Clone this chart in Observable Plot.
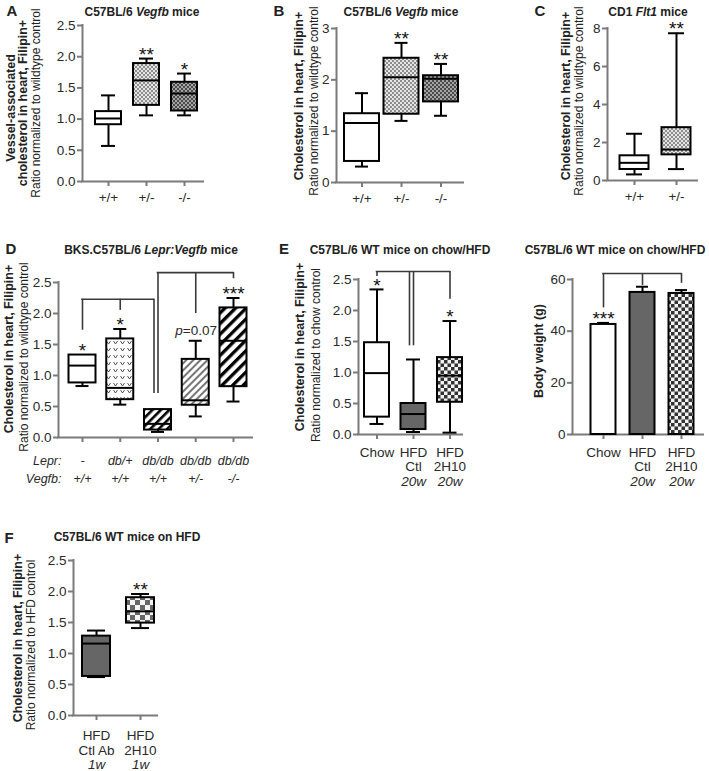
<!DOCTYPE html>
<html><head><meta charset="utf-8">
<script src="https://cdn.jsdelivr.net/npm/d3@7"></script>
<script src="https://cdn.jsdelivr.net/npm/@observablehq/plot@0.6"></script>
<style>
body{margin:0;background:#fff;}
#root{position:relative;width:709px;height:771px;overflow:hidden;font-family:"Liberation Sans",Arial,sans-serif;color:#222;background:#fff;}
.t{position:absolute;white-space:nowrap;transform:translate(-50%,-50%);line-height:1;}
.title{font-weight:bold;font-size:12px;}
.letter{font-weight:bold;font-size:15px;}
.yl{position:absolute;white-space:nowrap;transform:translate(-50%,-50%) rotate(-90deg);line-height:1;}
.yb{font-weight:bold;font-size:12.5px;}
.yr{font-size:12px;}
</style></head><body>
<svg width="0" height="0" style="position:absolute">
<defs>
<pattern id="chkL" width="4" height="4" patternUnits="userSpaceOnUse"><rect width="4" height="4" fill="#e6e6e6"/><rect width="2" height="2" fill="#8c8c8c"/><rect x="2" y="2" width="2" height="2" fill="#8c8c8c"/></pattern>
<pattern id="chkD" width="4" height="4" patternUnits="userSpaceOnUse"><rect width="4" height="4" fill="#a4a4a4"/><rect width="2" height="2" fill="#4a4a4a"/><rect x="2" y="2" width="2" height="2" fill="#4a4a4a"/></pattern>
<pattern id="chkE" width="7" height="7" patternUnits="userSpaceOnUse"><rect width="7" height="7" fill="#f2f2f2"/><rect width="3.5" height="3.5" fill="#333"/><rect x="3.5" y="3.5" width="3.5" height="3.5" fill="#333"/></pattern>
<pattern id="chkF" width="10" height="10" patternUnits="userSpaceOnUse"><rect width="10" height="10" fill="#f4f4f4"/><rect width="5" height="5" fill="#666"/><rect x="5" y="5" width="5" height="5" fill="#666"/></pattern>
<pattern id="vee" width="7" height="7" patternUnits="userSpaceOnUse"><rect width="7" height="7" fill="#fff"/><path d="M1.5,2 L3.5,5 L5.5,2" fill="none" stroke="#444" stroke-width="0.9"/></pattern>
<pattern id="h1" width="6" height="6" patternUnits="userSpaceOnUse" patternTransform="rotate(45)"><rect width="6" height="6" fill="#fff"/><rect width="2.6" height="6" fill="#000"/></pattern>
<pattern id="h2" width="5" height="5" patternUnits="userSpaceOnUse" patternTransform="rotate(45)"><rect width="5" height="5" fill="#fff"/><rect width="2" height="5" fill="#777"/></pattern>
<pattern id="h3" width="7.5" height="7.5" patternUnits="userSpaceOnUse" patternTransform="rotate(45)"><rect width="7.5" height="7.5" fill="#fff"/><rect width="3.3" height="7.5" fill="#000"/></pattern>
</defs></svg>
<div id="root"></div>
<script>
// ---------------- DATA ----------------
// Panel A: C57BL/6 Vegfb mice, vessel-associated cholesterol
const A_groups = ["+/+", "+/-", "-/-"];
const A_min = [0.57, 1.06, 1.06];
const A_q1  = [0.91, 1.22, 1.13];
const A_med = [1.01, 1.62, 1.41];
const A_q3  = [1.12, 1.89, 1.59];
const A_max = [1.38, 1.97, 1.73];
const A_sig = ["", "**", "*"];
const A_yTicks = [0, 0.5, 1.0, 1.5, 2.0, 2.5];

// Panel B: C57BL/6 Vegfb mice, cholesterol in heart
const B_groups = ["+/+", "+/-", "-/-"];
const B_min = [0.31, 1.20, 1.30];
const B_q1  = [0.41, 1.33, 1.57];
const B_med = [1.16, 2.05, 2.02];
const B_q3  = [1.34, 2.42, 2.08];
const B_max = [1.74, 2.72, 2.31];
const B_sig = ["", "**", "**"];
const B_yTicks = [0, 1, 2, 3];

// Panel C: CD1 Flt1 mice
const C_groups = ["+/+", "+/-"];
const C_min = [0.32, 0.60];
const C_q1  = [0.58, 1.35];
const C_med = [0.93, 1.63];
const C_q3  = [1.30, 2.78];
const C_max = [2.46, 7.75];
const C_sig = ["", "**"];
const C_yTicks = [0, 2, 4, 6, 8];

// Panel D: BKS.C57BL/6 Lepr:Vegfb mice
const D_rowNames = ["Lepr:", "Vegfb:"];
const D_lepr  = ["-", "db/+", "db/db", "db/db", "db/db"];
const D_vegfb = ["+/+", "+/+", "+/+", "+/-", "-/-"];
const D_min = [0.83, 0.53, 0.09, 0.34, 0.58];
const D_q1  = [0.88, 0.61, 0.12, 0.52, 0.82];
const D_med = [1.16, 0.80, 0.22, 0.60, 1.56];
const D_q3  = [1.33, 1.59, 0.45, 1.26, 2.09];
const D_max = [1.33, 1.75, 0.45, 1.56, 2.25];
const D_sig = ["*", "*", "", "", "***"];
const D_pval = [null, null, null, "0.07", null];
const D_brkY = [2.23, 2.66];
const D_brkLegs = [[[1, 1.73], [2, 2.05], [3, 0.71]], [[3, 0.71], [4, 2.0], [5, 2.56]]];
const D_yTicks = [0, 0.5, 1.0, 1.5, 2.0, 2.5];

// Panel E (left): C57BL/6 WT mice on chow/HFD, cholesterol
const E_lab1 = ["Chow", "HFD", "HFD"];
const E_lab2 = ["", "Ctl", "2H10"];
const E_lab3 = ["", "20w", "20w"];
const E_min = [0.17, 0.04, 0.03];
const E_q1  = [0.28, 0.08, 0.52];
const E_med = [0.99, 0.33, 0.95];
const E_q3  = [1.48, 0.50, 1.24];
const E_max = [2.34, 1.21, 1.83];
const E_sig = ["*", "", "*"];
const E_brkY = [2.63];
const E_brkLegs = [[[1, 2.55], [2, 1.43], [2, 1.43], [3, 2.18]]];
const E_yTicks = [0, 0.5, 1.0, 1.5, 2.0, 2.5];

// Panel E (right): body weight (g), mean + SEM
const W_mean = [42.6, 55.0, 54.6];
const W_sem  = [0.6, 2.2, 1.3];
const W_sig  = ["***", "", ""];
const W_brkY = [62.3];
const W_brkLegs = [[[1, 49], [2, 57.7], [3, 58.5]]];
const W_yTicks = [0, 20, 40, 60];

// Panel F: C57BL/6 WT mice on HFD
const F_lab1 = ["HFD", "HFD"];
const F_lab2 = ["Ctl Ab", "2H10"];
const F_lab3 = ["1w", "1w"];
const F_min = [0.62, 1.41];
const F_q1  = [0.63, 1.49];
const F_med = [1.16, 1.68];
const F_q3  = [1.28, 1.90];
const F_max = [1.37, 1.96];
const F_sig = ["", "**"];
const F_yTicks = [0, 0.5, 1.0, 1.5, 2.0, 2.5];

// ---------------- STYLE / LAYOUT ----------------
const AX = "#7a7a7a", TXT = "#2a2a2a", BR = "#3a3a3a";
const FONT = '"Liberation Sans", Arial, sans-serif';
const TICKFS = 13.5, STARFS = 19;
const root = document.getElementById("root");
const f1 = d3.format(".1f"), f0 = d3.format("d");

function place(svg, g) {
  svg.style.position = "absolute";
  svg.style.left = g.left + "px";
  svg.style.top = g.top + "px";
  svg.style.overflow = "visible";
  svg.style.background = "transparent";
  svg.style.fontFamily = FONT;
  svg.style.maxWidth = "none";
  root.appendChild(svg);
}

function axisMarks(g, a, yTop, yTicks, yFmt, n) {
  const idx = d3.range(1, n + 1);
  return [
    Plot.ruleY([0], {stroke: AX, strokeWidth: 2, strokeLinecap: "square"}),
    Plot.ruleX([a], {x: d => d, y1: () => 0, y2: () => yTop, stroke: AX, strokeWidth: 2, strokeLinecap: "square"}),
    Plot.axisY({ticks: yTicks, tickFormat: yFmt, tickSize: 5, tickPadding: 2, stroke: AX, strokeWidth: 2, fill: TXT, fontSize: TICKFS, label: null}),
    Plot.axisX({ticks: idx, tickSize: 5, tickFormat: () => "", stroke: AX, strokeWidth: 2, label: null})
  ];
}

function bracketMarks(ys, legs, dxs, u) {
  const v = [], h = [];
  ys.forEach((y, k) => {
    const xs = legs[k].map(([c, yEnd], j) => {
      const x = c + ((dxs && dxs[k]) ? dxs[k][j] : 0) * u;
      v.push({x, y1: yEnd, y2: y});
      return x;
    });
    h.push({x1: d3.min(xs), x2: d3.max(xs), y});
  });
  return [
    Plot.ruleX(v, {x: "x", y1: "y1", y2: "y2", stroke: BR, strokeWidth: 1.6}),
    Plot.ruleY(h, {y: "y", x1: "x1", x2: "x2", stroke: BR, strokeWidth: 1.6, strokeLinecap: "square"})
  ];
}

function labelMarks(lines, n) {
  const out = [];
  lines.forEach(L => {
    const rows = L.texts.map((t, k) => ({i: k + 1, t})).filter(d => d.t);
    out.push(Plot.text(rows, {x: "i", y: () => 0, text: "t", dy: L.dy, fontSize: L.fs || TICKFS, fill: TXT, fontStyle: L.italic ? "italic" : "normal", lineAnchor: "middle"}));
  });
  return out;
}

function boxPanel(cfg) {
  const g = cfg.geo;
  const a = 1 - (g.cat1 - g.axL) / g.step, b = 1 + (g.axR - g.cat1) / g.step;
  const u = 1 / g.step;
  const n = cfg.min.length;
  const rows = d3.range(n).map(k => ({i: k + 1, min: cfg.min[k], q1: cfg.q1[k], med: cfg.med[k], q3: cfg.q3[k], max: cfg.max[k], fill: cfg.fills[k], sig: cfg.sig[k]}));
  const bw = cfg.boxHalf * u, cw = cfg.capHalf * u;
  const marks = [
    ...axisMarks(g, a, cfg.yTop, cfg.yTicks, cfg.yFmt, n),
    ...(cfg.brkY ? bracketMarks(cfg.brkY, cfg.brkLegs, cfg.brkDx, u) : []),
    Plot.ruleX(rows, {x: "i", y1: "min", y2: "max", stroke: "#000", strokeWidth: 2}),
    Plot.ruleY(rows, {y: "min", x1: d => d.i - cw, x2: d => d.i + cw, stroke: "#000", strokeWidth: 2}),
    Plot.ruleY(rows, {y: "max", x1: d => d.i - cw, x2: d => d.i + cw, stroke: "#000", strokeWidth: 2}),
    Plot.rect(rows, {x1: d => d.i - bw, x2: d => d.i + bw, y1: "q1", y2: "q3", fill: "fill", stroke: "#000", strokeWidth: 2}),
    Plot.ruleY(rows, {y: "med", x1: d => d.i - bw, x2: d => d.i + bw, stroke: "#000", strokeWidth: 2}),
    Plot.text(rows.filter(d => d.sig), {x: "i", y: "max", text: "sig", dy: -4, fontSize: STARFS, fill: "#111", lineAnchor: "middle"}),
    ...labelMarks(cfg.lines, n),
    ...(cfg.extra ? cfg.extra(rows, a) : [])
  ];
  const svg = Plot.plot({
    width: g.w, height: g.h,
    marginLeft: g.axL - g.left, marginRight: g.left + g.w - g.axR,
    marginTop: g.yTopPx - g.top, marginBottom: g.top + g.h - g.y0Px,
    x: {domain: [a, b]}, y: {domain: [0, cfg.yTop]},
    color: {type: "identity"},
    marks
  });
  place(svg, g);
}

function barPanel(cfg) {
  const g = cfg.geo;
  const a = 1 - (g.cat1 - g.axL) / g.step, b = 1 + (g.axR - g.cat1) / g.step;
  const u = 1 / g.step;
  const n = cfg.mean.length;
  const rows = d3.range(n).map(k => ({i: k + 1, mean: cfg.mean[k], top: cfg.mean[k] + cfg.sem[k], fill: cfg.fills[k], sig: cfg.sig[k]}));
  const bw = cfg.barHalf * u, cw = cfg.capHalf * u;
  const marks = [
    ...axisMarks(g, a, cfg.yTop, cfg.yTicks, cfg.yFmt, n),
    ...bracketMarks(cfg.brkY, cfg.brkLegs, null, u),
    Plot.ruleX(rows, {x: "i", y1: "mean", y2: "top", stroke: "#000", strokeWidth: 2}),
    Plot.ruleY(rows, {y: "top", x1: d => d.i - cw, x2: d => d.i + cw, stroke: "#000", strokeWidth: 2}),
    Plot.rectY(rows, {x1: d => d.i - bw, x2: d => d.i + bw, y: "mean", fill: "fill", stroke: "#000", strokeWidth: 2}),
    Plot.text(rows.filter(d => d.sig), {x: "i", y: "top", text: "sig", dy: -4, fontSize: STARFS, fill: "#111", lineAnchor: "middle"}),
    ...labelMarks(cfg.lines, n)
  ];
  const svg = Plot.plot({
    width: g.w, height: g.h,
    marginLeft: g.axL - g.left, marginRight: g.left + g.w - g.axR,
    marginTop: g.yTopPx - g.top, marginBottom: g.top + g.h - g.y0Px,
    x: {domain: [a, b]}, y: {domain: [0, cfg.yTop]},
    color: {type: "identity"},
    marks
  });
  place(svg, g);
}

// Panel A
boxPanel({
  geo: {left: 45, top: 0, w: 170, h: 215, axL: 82, axR: 203, yTopPx: 25, y0Px: 181, cat1: 108, step: 38},
  min: A_min, q1: A_q1, med: A_med, q3: A_q3, max: A_max, sig: A_sig,
  fills: ["#fff", "url(#chkL)", "url(#chkD)"],
  yTop: 2.5, yTicks: A_yTicks, yFmt: f1, boxHalf: 13, capHalf: 7,
  lines: [{texts: A_groups, dy: 16}]
});
// Panel B
boxPanel({
  geo: {left: 300, top: 0, w: 175, h: 215, axL: 336, axR: 463, yTopPx: 28, y0Px: 182, cat1: 361.5, step: 39.5},
  min: B_min, q1: B_q1, med: B_med, q3: B_q3, max: B_max, sig: B_sig,
  fills: ["#fff", "url(#chkL)", "url(#chkD)"],
  yTop: 3, yTicks: B_yTicks, yFmt: f0, boxHalf: 17.5, capHalf: 6.5,
  lines: [{texts: B_groups, dy: 16}]
});
// Panel C
boxPanel({
  geo: {left: 575, top: 0, w: 134, h: 215, axL: 607, axR: 697, yTopPx: 28, y0Px: 180, cat1: 634, step: 42},
  min: C_min, q1: C_q1, med: C_med, q3: C_q3, max: C_max, sig: C_sig,
  fills: ["#fff", "url(#chkL)"],
  yTop: 8, yTicks: C_yTicks, yFmt: f0, boxHalf: 14.5, capHalf: 8,
  lines: [{texts: C_groups, dy: 16}]
});
// Panel D
boxPanel({
  geo: {left: 0, top: 255, w: 265, h: 240, axL: 58, axR: 252, yTopPx: 282, y0Px: 437, cat1: 82, step: 37.75},
  min: D_min, q1: D_q1, med: D_med, q3: D_q3, max: D_max, sig: D_sig,
  fills: ["#fff", "url(#vee)", "url(#h1)", "url(#h2)", "url(#h3)"],
  yTop: 2.5, yTicks: D_yTicks, yFmt: f1, boxHalf: 13.5, capHalf: 6.5,
  brkY: D_brkY, brkLegs: D_brkLegs, brkDx: [[0, 0, -4], [0, 0, 0]],
  lines: [{texts: D_lepr, dy: 23, italic: true, fs: 12.5}, {texts: D_vegfb, dy: 41, italic: true, fs: 12.5}],
  extra: (rows, a) => {
    const pv = rows.map((d, k) => ({...d, p: D_pval[k]})).filter(d => d.p);
    return [
      Plot.text([D_rowNames[0]], {x: () => a, y: () => 0, text: d => d, dx: 3, dy: 23, textAnchor: "end", fontStyle: "italic", fontSize: 12.5, fill: TXT, lineAnchor: "middle"}),
      Plot.text([D_rowNames[1]], {x: () => a, y: () => 0, text: d => d, dx: 3, dy: 41, textAnchor: "end", fontStyle: "italic", fontSize: 12.5, fill: TXT, lineAnchor: "middle"}),
      Plot.text(pv, {x: "i", y: "max", text: () => "p", dx: -13, dy: -10, textAnchor: "end", fontStyle: "italic", fontSize: 13.5, fill: TXT}),
      Plot.text(pv, {x: "i", y: "max", text: d => "=" + d.p, dx: -13, dy: -10, textAnchor: "start", fontSize: 13.5, fill: TXT})
    ];
  }
});
// Panel E left
boxPanel({
  geo: {left: 325, top: 255, w: 150, h: 240, axL: 358, axR: 462, yTopPx: 279, y0Px: 434, cat1: 376.5, step: 36.5},
  min: E_min, q1: E_q1, med: E_med, q3: E_q3, max: E_max, sig: E_sig,
  fills: ["#fff", "#666", "url(#chkE)"],
  yTop: 2.5, yTicks: E_yTicks, yFmt: f1, boxHalf: 12.5, capHalf: 7,
  brkY: E_brkY, brkLegs: E_brkLegs, brkDx: [[0, -4, 0, 0]],
  lines: [{texts: E_lab1, dy: 18}, {texts: E_lab2, dy: 32}, {texts: E_lab3, dy: 47, italic: true}]
});
// Panel E right
barPanel({
  geo: {left: 545, top: 255, w: 164, h: 240, axL: 572, axR: 703, yTopPx: 279, y0Px: 434, cat1: 603, step: 39},
  mean: W_mean, sem: W_sem, sig: W_sig,
  fills: ["#fff", "#666", "url(#chkE)"],
  yTop: 60, yTicks: W_yTicks, yFmt: f0, barHalf: 12.5, capHalf: 6,
  brkY: W_brkY, brkLegs: W_brkLegs,
  lines: [{texts: E_lab1, dy: 18}, {texts: E_lab2, dy: 32}, {texts: E_lab3, dy: 47, italic: true}]
});
// Panel F
boxPanel({
  geo: {left: 40, top: 545, w: 140, h: 226, axL: 73, axR: 157, yTopPx: 560, y0Px: 715, cat1: 96, step: 44},
  min: F_min, q1: F_q1, med: F_med, q3: F_q3, max: F_max, sig: F_sig,
  fills: ["#666", "url(#chkF)"],
  yTop: 2.5, yTicks: F_yTicks, yFmt: f1, boxHalf: 14, capHalf: 9,
  lines: [{texts: F_lab1, dy: 20}, {texts: F_lab2, dy: 35}, {texts: F_lab3, dy: 49, italic: true}]
});

// ---------------- TEXT (titles, letters, y labels) ----------------
function addText(html, cls, x, y) {
  const d = document.createElement("div");
  d.className = cls;
  d.innerHTML = html;
  d.style.left = x + "px";
  d.style.top = y + "px";
  root.appendChild(d);
}
addText("A", "t letter", 12, 10);
addText("B", "t letter", 279, 10);
addText("C", "t letter", 540, 10);
addText("D", "t letter", 11, 248);
addText("E", "t letter", 284, 248);
addText("F", "t letter", 9, 537);

addText("C57BL/6 <i>Vegfb</i> mice", "t title", 142, 12);
addText("C57BL/6 <i>Vegfb</i> mice", "t title", 401, 12);
addText("CD1 <i>Flt1</i> mice", "t title", 648, 12);
addText("BKS.C57BL/6 <i>Lepr:Vegfb</i> mice", "t title", 151, 250);
addText("C57BL/6 WT mice on chow/HFD", "t title", 400, 250);
addText("C57BL/6 WT mice on chow/HFD", "t title", 615, 250);
addText("C57BL/6 WT mice on HFD", "t title", 127, 537);

addText("Vessel-associated", "yl yb", 11, 108);
addText("cholesterol in heart, Filipin+", "yl yb", 23, 103);
addText("Ratio normalized to wildtype control", "yl yr", 36, 103);
addText("Cholesterol in heart, Filipin+", "yl yb", 299, 96);
addText("Ratio normalized to wildtype control", "yl yr", 314, 101);
addText("Cholesterol in heart, Filipin+", "yl yb", 566, 96);
addText("Ratio normalized to wildtype control", "yl yr", 579, 101);
addText("Cholesterol in heart, Filipin+", "yl yb", 9, 349);
addText("Ratio normalized to wildtype control", "yl yr", 24, 357);
addText("Cholesterol in heart, Filipin+", "yl yb", 300, 347);
addText("Ratio normalized to chow control", "yl yr", 316, 355);
addText("Body weight (g)", "yl yb", 539, 351);
addText("Cholesterol in heart, Filipin+", "yl yb", 18, 638);
addText("Ratio normalized to HFD control", "yl yr", 31, 645);
</script>
</body></html>
